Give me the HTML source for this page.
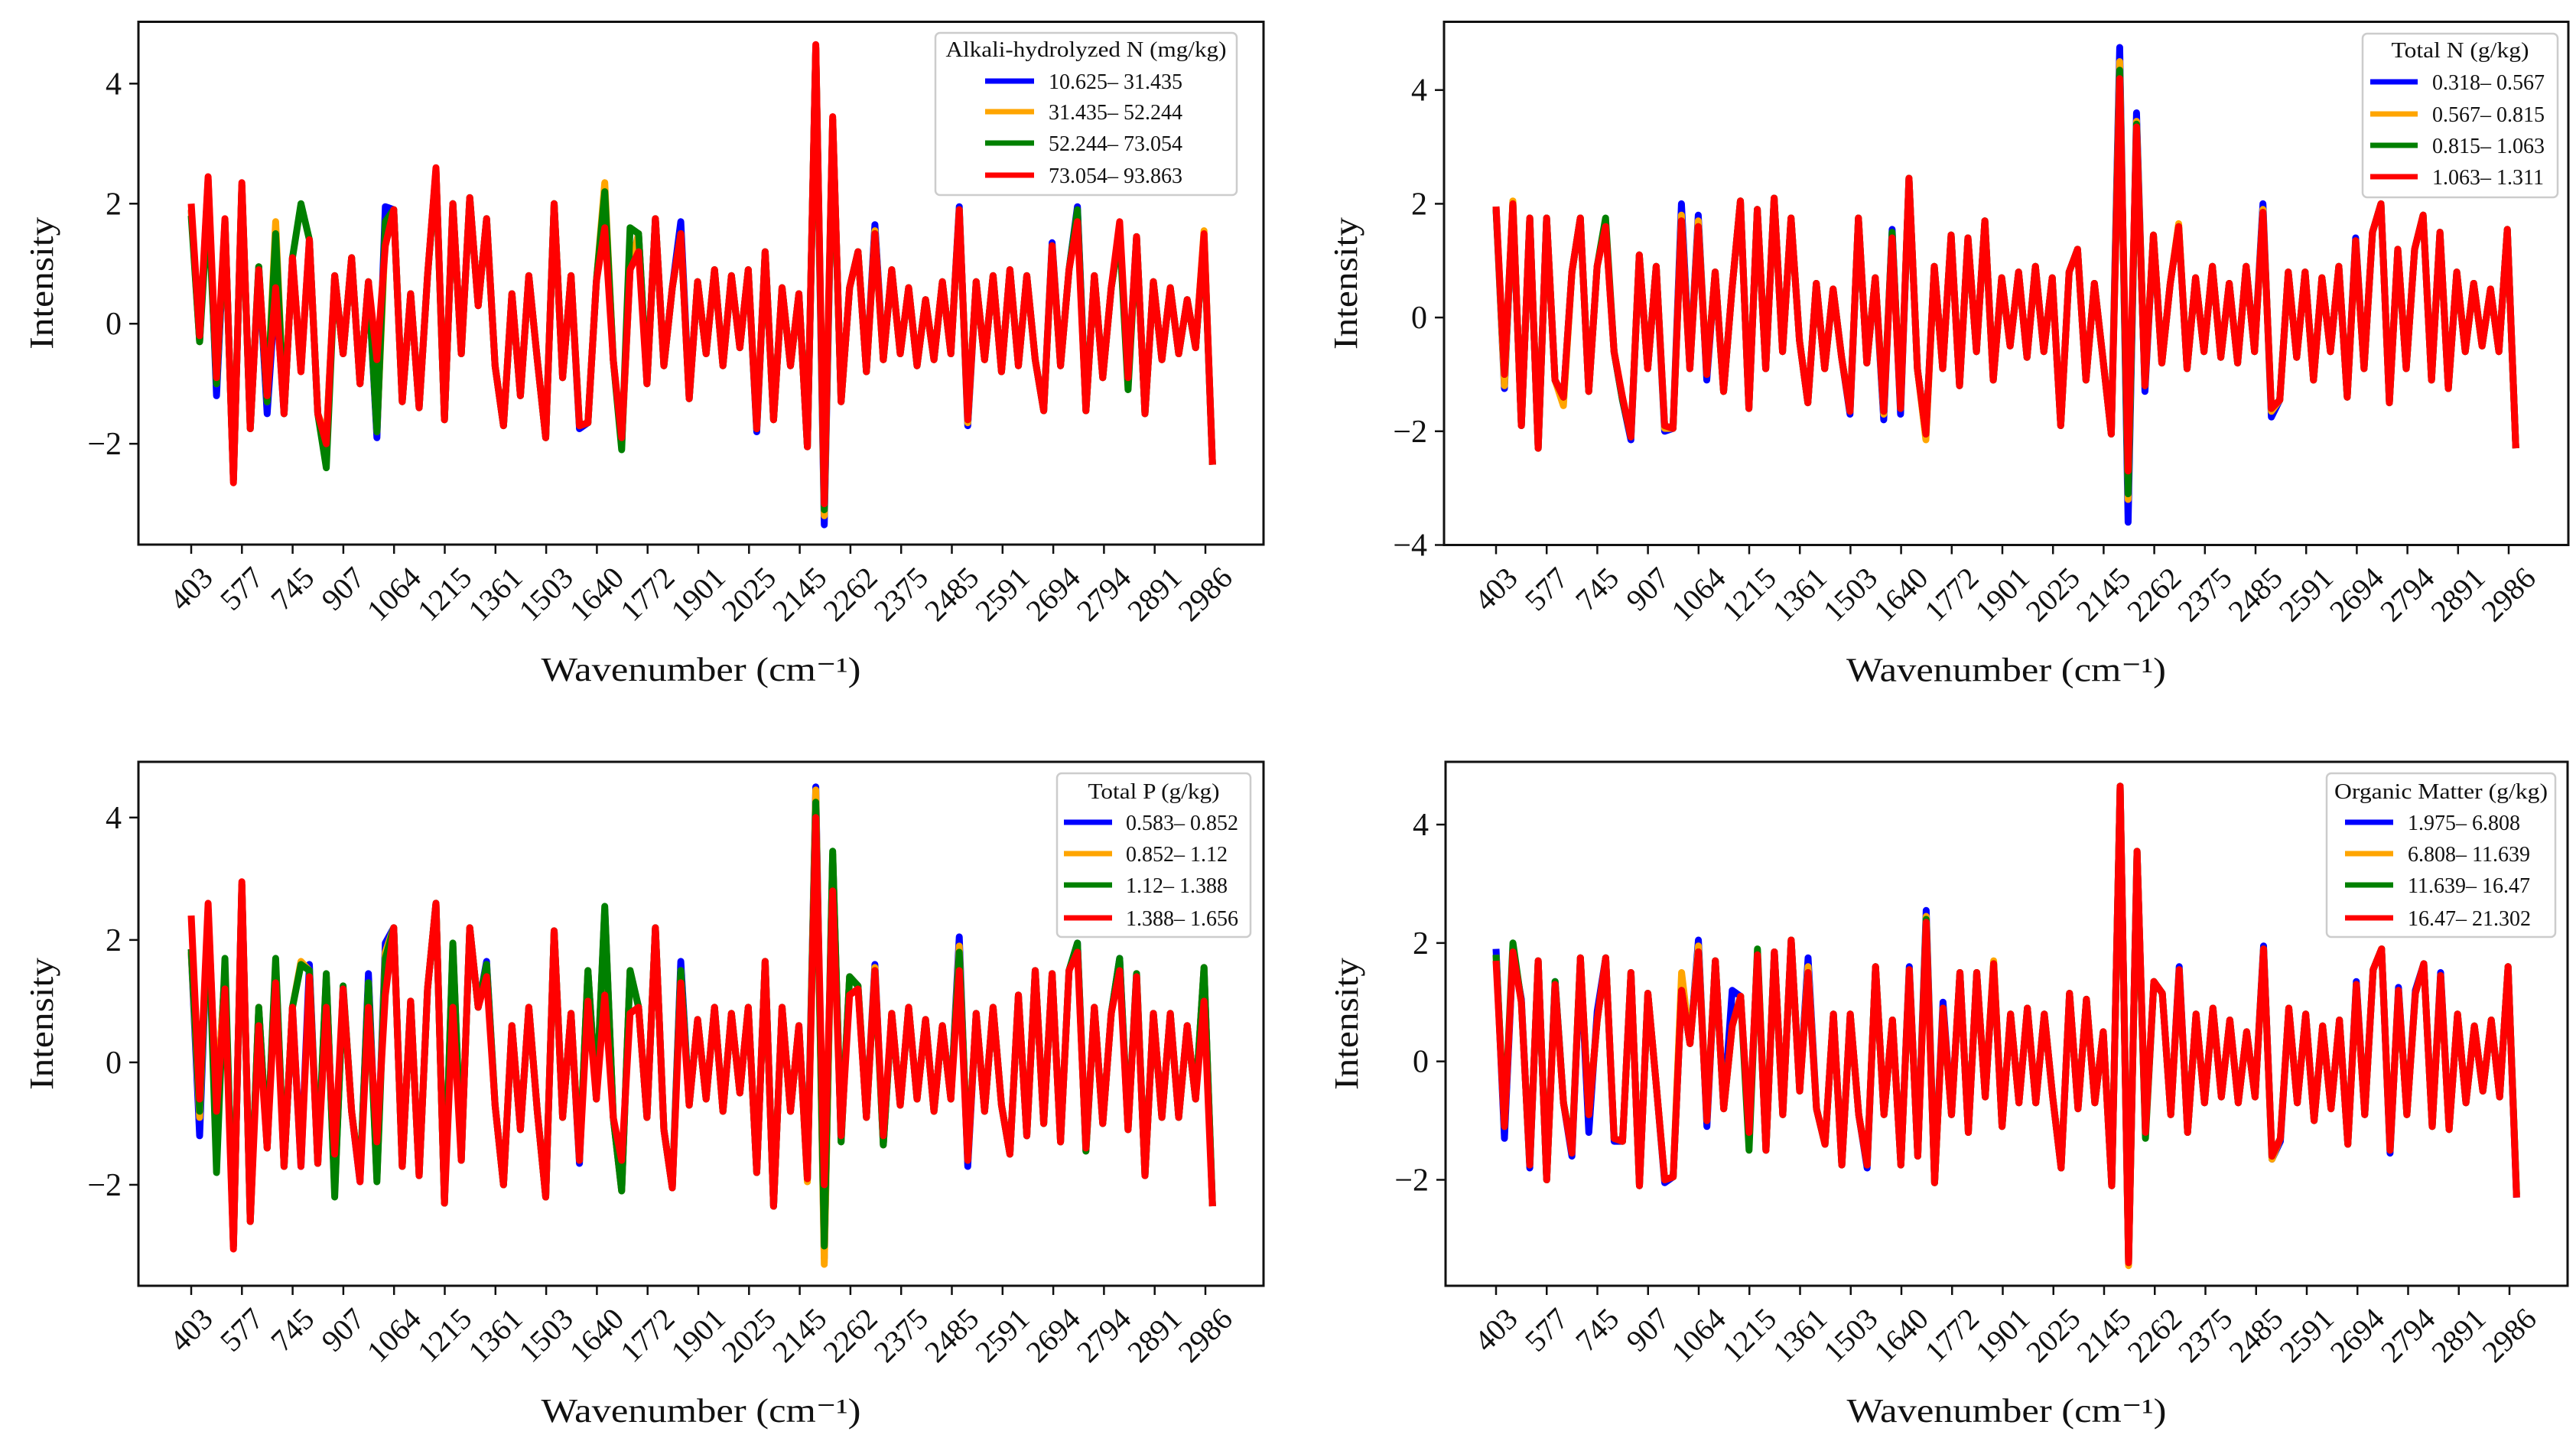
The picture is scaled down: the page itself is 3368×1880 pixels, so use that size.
<!DOCTYPE html>
<html><head><meta charset="utf-8">
<style>
html,body{margin:0;padding:0;background:#fff;}
svg{display:block;font-family:"Liberation Serif",serif;}
</style></head>
<body>
<svg id="fig" width="3368" height="1880" viewBox="0 0 3368 1880" xmlns="http://www.w3.org/2000/svg"></svg>
<script>
// ---------- shared data ----------
const tickLabels = ["403","577","745","907","1064","1215","1361","1503","1640","1772","1901","2025","2145","2262","2375","2485","2591","2694","2794","2891","2986"];
const seriesColors = ["#0000ff","#ffa500","#008000","#ff0000"];

// ---------- Panel A: Alkali-hydrolyzed N ----------
const legendA = ["10.625\u2013 31.435","31.435\u2013 52.244","52.244\u2013 73.054","73.054\u2013 93.863"];
const redA = [2.0,-0.2,2.45,-0.9,1.75,-2.65, 2.35,-1.75,0.9,-1.2,0.6,-1.5, 1.1,-0.8,1.4,-1.5,-2.0,0.8, -0.5,1.1,-1.0,0.7,-0.6,1.3, 1.9,-1.3,0.5,-1.4,0.8,2.6, -1.6,2.0,-0.5,2.1,0.3,1.75, -0.7,-1.7,0.5,-1.2,0.8,-0.6, -1.9,2.0,-0.9,0.8,-1.7,-1.65, 0.7,1.6,-0.6,-1.9,0.9,1.2, -1.0,1.75,-0.7,0.6,1.5,-1.25, 0.7,-0.5,0.9,-0.7,0.8,-0.4, 0.9,-1.75,1.2,-1.6,0.6,-0.7, 0.5,-2.05,4.65,-3.0,3.45,-1.3, 0.6,1.2,-0.8,1.5,-0.6,0.9, -0.5,0.6,-0.7,0.4,-0.6,0.7, -0.5,1.9,-1.6,0.7,-0.6,0.8, -0.8,0.9,-0.7,0.8,-0.6,-1.45, 1.3,-0.7,0.9,1.7,-1.45,0.8, -0.9,0.6,1.7,-0.9,1.45,-1.5, 0.7,-0.6,0.6,-0.5,0.4,-0.4, 1.5,-2.35];
const blueA = [1.9,-0.3,2.4,-1.2,1.7,-2.6, 2.3,-1.75,0.95,-1.5,0.6,-1.5, 1.1,-0.8,1.4,-1.5,-1.9,0.8, -0.5,1.1,-1.0,0.7,-1.9,1.95, 1.9,-1.3,0.5,-1.4,0.8,2.55, -1.6,2.0,-0.5,2.1,0.3,1.75, -0.7,-1.7,0.5,-1.2,0.8,-0.6, -1.9,2.0,-0.9,0.8,-1.75,-1.65, 0.7,2.2,-0.6,-2.0,0.9,1.5, -1.0,1.75,-0.7,0.6,1.7,-1.25, 0.7,-0.5,0.9,-0.7,0.8,-0.4, 0.9,-1.8,1.2,-1.6,0.6,-0.7, 0.5,-2.05,4.6,-3.35,3.4,-1.3, 0.6,1.2,-0.8,1.65,-0.6,0.9, -0.5,0.6,-0.7,0.4,-0.6,0.7, -0.5,1.95,-1.7,0.7,-0.6,0.8, -0.8,0.9,-0.7,0.8,-0.6,-1.45, 1.35,-0.7,0.9,1.95,-1.45,0.8, -0.9,0.6,1.5,-0.9,1.45,-1.5, 0.7,-0.6,0.6,-0.5,0.4,-0.4, 1.5,-2.35];
const orangeA = [1.9,-0.3,2.4,-1.0,1.7,-2.6, 2.3,-1.75,0.95,-1.3,1.7,-1.5, 1.1,-0.8,1.4,-1.5,-1.9,0.8, -0.5,1.1,-1.0,0.7,-1.8,1.5, 1.9,-1.3,0.5,-1.4,0.8,2.55, -1.6,2.0,-0.5,2.1,0.3,1.75, -0.7,-1.7,0.5,-1.2,0.8,-0.6, -1.9,2.0,-0.9,0.8,-1.7,-1.65, 0.7,2.35,-0.6,-2.0,0.9,1.5, -1.0,1.75,-0.7,0.6,1.5,-1.25, 0.7,-0.5,0.9,-0.7,0.8,-0.4, 0.9,-1.75,1.2,-1.6,0.6,-0.7, 0.5,-2.05,4.6,-3.2,3.4,-1.3, 0.6,1.2,-0.8,1.55,-0.6,0.9, -0.5,0.6,-0.7,0.4,-0.6,0.7, -0.5,1.9,-1.65,0.7,-0.6,0.8, -0.8,0.9,-0.7,0.8,-0.6,-1.45, 1.3,-0.7,0.9,1.8,-1.45,0.8, -0.9,0.6,1.5,-1.0,1.45,-1.5, 0.7,-0.6,0.6,-0.5,0.4,-0.4, 1.55,-2.35];
const greenA = [1.8,-0.3,2.0,-1.0,1.7,-2.6, 2.3,-1.75,0.95,-1.3,1.5,-1.5, 1.1,2.0,1.4,-1.5,-2.4,0.8, -0.5,1.1,-1.0,0.7,-1.8,1.7, 1.9,-1.3,0.5,-1.4,0.8,2.55, -1.6,2.0,-0.5,2.1,0.3,1.75, -0.7,-1.7,0.5,-1.2,0.8,-0.6, -1.9,2.0,-0.9,0.8,-1.7,-1.65, 0.7,2.2,-0.6,-2.1,1.6,1.5, -1.0,1.75,-0.7,0.6,1.5,-1.25, 0.7,-0.5,0.9,-0.7,0.8,-0.4, 0.9,-1.75,1.2,-1.6,0.6,-0.7, 0.5,-2.05,4.6,-3.1,3.4,-1.3, 0.6,1.2,-0.8,1.5,-0.6,0.9, -0.5,0.6,-0.7,0.4,-0.6,0.7, -0.5,1.9,-1.6,0.7,-0.6,0.8, -0.8,0.9,-0.7,0.8,-0.6,-1.45, 1.3,-0.7,0.9,1.9,-1.45,0.8, -0.9,0.6,1.5,-1.1,1.45,-1.5, 0.7,-0.6,0.6,-0.5,0.4,-0.4, 1.45,-2.35];

// ---------- Panel B: Total N ----------
const legendB = ["0.318\u2013 0.567","0.567\u2013 0.815","0.815\u2013 1.063","1.063\u2013 1.311"];
const redB = [1.95,-1.0,2.0,-1.9,1.75,-2.3, 1.75,-1.1,-1.4,0.8,1.75,-1.3, 0.9,1.6,-0.6,-1.4,-2.1,1.1, -0.9,0.9,-1.9,-1.95,1.7,-0.9, 1.6,-1.0,0.8,-1.3,0.5,2.05, -1.6,1.9,-0.9,2.1,-0.6,1.75, -0.4,-1.5,0.6,-0.9,0.5,-0.7, -1.65,1.75,-0.8,0.7,-1.65,1.4, -1.6,2.45,-0.9,-2.05,0.9,-0.9, 1.45,-1.2,1.4,-0.6,1.7,-1.1, 0.7,-0.5,0.8,-0.7,0.9,-0.6, 0.7,-1.9,0.8,1.2,-1.1,0.6, -0.7,-2.05,4.2,-2.7,3.35,-1.2, 1.45,-0.8,0.6,1.6,-0.9,0.7, -0.6,0.9,-0.7,0.6,-0.8,0.9, -0.6,1.85,-1.6,-1.45,0.8,-0.7, 0.8,-1.1,0.7,-0.6,0.9,-1.4, 1.35,-0.9,1.5,2.0,-1.5,1.2, -0.9,1.2,1.8,-1.1,1.5,-1.25, 0.8,-0.6,0.6,-0.5,0.5,-0.6, 1.55,-2.3];
const blueB = [1.95,-1.25,2.0,-1.9,1.75,-2.3, 1.75,-1.1,-1.4,0.8,1.75,-1.3, 0.9,1.6,-0.6,-1.45,-2.15,1.1, -0.9,0.9,-2.0,-1.95,2.0,-0.9, 1.8,-1.1,0.8,-1.3,0.5,2.05, -1.6,1.9,-0.9,2.1,-0.6,1.75, -0.4,-1.5,0.6,-0.9,0.5,-0.7, -1.7,1.75,-0.8,0.7,-1.8,1.55, -1.7,2.45,-0.9,-2.05,0.9,-0.9, 1.45,-1.2,1.4,-0.6,1.7,-1.1, 0.7,-0.5,0.8,-0.7,0.9,-0.6, 0.7,-1.9,0.8,1.2,-1.1,0.6, -0.7,-2.05,4.75,-3.6,3.6,-1.3, 1.45,-0.8,0.6,1.6,-0.9,0.7, -0.6,0.9,-0.7,0.6,-0.8,0.9, -0.6,2.0,-1.75,-1.45,0.8,-0.7, 0.8,-1.1,0.7,-0.6,0.9,-1.4, 1.4,-0.9,1.5,2.0,-1.5,1.2, -0.9,1.2,1.8,-1.1,1.5,-1.25, 0.8,-0.6,0.6,-0.5,0.5,-0.6, 1.55,-2.3];
const orangeB = [1.95,-1.2,2.05,-1.9,1.75,-2.3, 1.75,-1.1,-1.55,0.8,1.75,-1.3, 0.9,1.6,-0.6,-1.4,-2.1,1.1, -0.9,0.9,-1.95,-1.95,1.8,-0.9, 1.7,-1.0,0.8,-1.3,0.5,2.05, -1.6,1.9,-0.9,2.1,-0.6,1.75, -0.4,-1.5,0.6,-0.9,0.5,-0.7, -1.65,1.75,-0.8,0.7,-1.7,1.45, -1.6,2.45,-0.9,-2.15,0.9,-0.9, 1.45,-1.2,1.4,-0.6,1.7,-1.1, 0.7,-0.5,0.8,-0.7,0.9,-0.6, 0.7,-1.9,0.8,1.2,-1.1,0.6, -0.7,-2.05,4.5,-3.2,3.45,-1.2, 1.45,-0.8,0.6,1.65,-0.9,0.7, -0.6,0.9,-0.7,0.6,-0.8,0.9, -0.6,1.9,-1.65,-1.45,0.8,-0.7, 0.8,-1.1,0.7,-0.6,0.9,-1.4, 1.35,-0.9,1.5,2.0,-1.5,1.2, -0.9,1.2,1.8,-1.1,1.5,-1.25, 0.8,-0.6,0.6,-0.5,0.5,-0.6, 1.55,-2.3];
const greenB = [1.9,-1.0,2.0,-1.9,1.75,-2.3, 1.75,-1.1,-1.4,0.8,1.75,-1.3, 0.9,1.75,-0.6,-1.45,-2.1,1.1, -0.9,0.9,-1.9,-1.95,1.7,-0.9, 1.6,-1.0,0.8,-1.3,0.5,2.05, -1.6,1.9,-0.9,2.1,-0.6,1.75, -0.4,-1.5,0.6,-0.9,0.5,-0.7, -1.65,1.75,-0.8,0.7,-1.65,1.5, -1.6,2.45,-0.9,-2.05,0.9,-0.9, 1.45,-1.2,1.4,-0.6,1.7,-1.1, 0.7,-0.5,0.8,-0.7,0.9,-0.6, 0.7,-1.9,0.8,1.2,-1.1,0.6, -0.7,-2.05,4.35,-3.1,3.4,-1.2, 1.45,-0.8,0.6,1.6,-0.9,0.7, -0.6,0.9,-0.7,0.6,-0.8,0.9, -0.6,1.85,-1.6,-1.45,0.8,-0.7, 0.8,-1.1,0.7,-0.6,0.9,-1.4, 1.35,-0.9,1.5,2.0,-1.5,1.2, -0.9,1.2,1.8,-1.1,1.5,-1.25, 0.8,-0.6,0.6,-0.5,0.5,-0.6, 1.55,-2.3];

// ---------- Panel C: Total P ----------
const legendC = ["0.583\u2013 0.852","0.852\u2013 1.12","1.12\u2013 1.388","1.388\u2013 1.656"];
const redC = [2.4,-0.6,2.6,-0.8,1.2,-3.05, 2.95,-2.6,0.6,-1.4,1.3,-1.7, 0.9,-1.7,1.4,-1.65,0.9,-1.5, 1.2,-0.8,-1.95,0.9,-1.3,1.1, 2.2,-1.7,1.0,-1.85,1.2,2.6, -2.3,0.9,-1.6,2.2,0.9,1.4, -0.7,-2.0,0.6,-1.1,0.9,-0.8, -2.2,2.15,-0.9,0.8,-1.6,1.0, -0.6,1.1,-0.9,-1.6,0.8,0.9, -0.9,2.2,-1.1,-2.05,1.3,-0.7, 0.7,-0.6,0.9,-0.8,0.8,-0.5, 0.9,-1.8,1.65,-2.35,0.9,-0.8, 0.6,-1.9,4.0,-2.0,2.8,-1.2, 1.1,1.2,-0.9,1.5,-1.2,0.8, -0.7,0.9,-0.6,0.7,-0.8,0.6, -0.6,1.5,-1.6,0.8,-0.8,0.9, -0.7,-1.5,1.1,-1.2,1.5,-1.0, 1.45,-1.3,1.5,1.8,-1.4,0.9, -1.0,0.8,1.5,-1.1,1.4,-1.85, 0.8,-0.9,0.8,-0.9,0.6,-0.6, 1.0,-2.35];
const blueC = [1.8,-1.2,2.5,-0.8,1.5,-3.0, 2.9,-2.6,0.9,-1.4,1.6,-1.7, 0.9,-1.7,1.6,-1.65,1.4,-2.1, 1.2,-0.8,-1.95,1.45,-1.9,1.95, 2.2,-1.7,1.0,-1.85,1.2,2.6, -2.3,1.9,-1.6,2.2,0.9,1.65, -0.7,-2.0,0.6,-1.1,0.9,-0.8, -2.2,2.15,-0.9,0.8,-1.65,1.5, -0.6,2.5,-0.9,-2.1,1.5,0.9, -0.9,2.2,-1.1,-2.05,1.65,-0.7, 0.7,-0.6,0.9,-0.8,0.8,-0.5, 0.9,-1.8,1.65,-2.35,0.9,-0.8, 0.6,-1.9,4.5,-3.2,3.4,-1.3, 1.4,1.25,-0.9,1.6,-1.35,0.8, -0.7,0.9,-0.6,0.7,-0.8,0.6, -0.6,2.05,-1.7,0.8,-0.8,0.9, -0.7,-1.5,1.1,-1.2,1.5,-1.0, 1.45,-1.3,1.5,1.95,-1.45,0.9, -1.0,0.8,1.7,-1.1,1.45,-1.85, 0.8,-0.9,0.8,-0.9,0.6,-0.6, 1.55,-2.35];
const orangeC = [1.8,-0.9,2.5,-0.8,1.5,-3.0, 2.9,-2.6,0.9,-1.4,1.6,-1.7, 0.9,1.65,1.5,-1.65,1.4,-2.1, 1.2,-0.8,-1.9,1.3,-1.9,1.8, 2.2,-1.7,1.0,-1.85,1.2,2.6, -2.3,1.9,-1.6,2.2,0.9,1.6, -0.7,-2.0,0.6,-1.1,0.9,-0.8, -2.2,2.15,-0.9,0.8,-1.6,1.5, -0.6,2.5,-0.9,-2.1,1.5,0.9, -0.9,2.2,-1.1,-2.05,1.5,-0.7, 0.7,-0.6,0.9,-0.8,0.8,-0.5, 0.9,-1.8,1.65,-2.35,0.9,-0.8, 0.6,-1.95,4.45,-3.3,3.4,-1.3, 1.4,1.25,-0.9,1.55,-1.35,0.8, -0.7,0.9,-0.6,0.7,-0.8,0.6, -0.6,1.9,-1.6,0.8,-0.8,0.9, -0.7,-1.5,1.1,-1.2,1.5,-1.0, 1.45,-1.3,1.5,1.9,-1.45,0.9, -1.0,0.8,1.6,-1.1,1.45,-1.85, 0.8,-0.9,0.8,-0.9,0.6,-0.6, 1.55,-2.35];
const greenC = [1.85,-0.8,2.5,-1.8,1.7,-3.0, 2.9,-2.6,0.9,-1.4,1.7,-1.7, 0.9,1.6,1.5,-1.65,1.45,-2.2, 1.25,-0.8,-1.9,1.3,-1.95,1.7, 2.2,-1.7,1.0,-1.85,1.2,2.6, -2.3,1.95,-1.6,2.2,0.9,1.6, -0.7,-2.0,0.6,-1.1,0.9,-0.8, -2.2,2.15,-0.9,0.8,-1.6,1.5, -0.6,2.55,-0.9,-2.1,1.5,0.9, -0.9,2.2,-1.1,-2.05,1.5,-0.7, 0.7,-0.6,0.9,-0.8,0.8,-0.5, 0.9,-1.8,1.65,-2.35,0.9,-0.8, 0.6,-1.9,4.25,-3.0,3.45,-1.3, 1.4,1.25,-0.9,1.5,-1.35,0.8, -0.7,0.9,-0.6,0.7,-0.8,0.6, -0.6,1.8,-1.6,0.8,-0.8,0.9, -0.7,-1.5,1.1,-1.2,1.5,-1.0, 1.45,-1.3,1.5,1.95,-1.45,0.9, -1.0,0.8,1.7,-1.1,1.45,-1.85, 0.8,-0.9,0.8,-0.9,0.6,-0.6, 1.55,-2.35];

// ---------- Panel D: Organic Matter ----------
const legendD = ["1.975\u2013 6.808","6.808\u2013 11.639","11.639\u2013 16.47","16.47\u2013 21.302"];
const redD = [1.7,-1.1,1.85,1.0,-1.75,1.7, -2.0,1.3,-0.7,-1.55,1.75,-0.9, 0.7,1.75,-1.3,-1.35,1.5,-2.1, 1.15,-0.4,-2.0,-1.95,1.2,0.3, 1.85,-1.0,1.7,-0.8,0.6,1.1, -1.2,1.8,-1.5,1.85,-0.9,2.05, -0.5,1.5,-0.8,-1.4,0.8,-1.75, 0.8,-0.9,-1.75,1.6,-0.9,0.7, -1.75,1.55,-1.6,2.35,-2.05,0.9, -0.9,1.5,-1.2,1.5,-0.6,1.65, -1.1,0.8,-0.7,0.9,-0.7,0.8, -0.6,-1.8,1.15,-0.8,1.05,-0.7, 0.5,-2.1,4.65,-3.4,3.55,-1.2, 1.35,1.15,-0.9,1.55,-1.2,0.8, -0.7,0.9,-0.6,0.7,-0.7,0.5, -0.6,1.9,-1.6,-1.3,0.9,-0.7, 0.8,-1.0,0.6,-0.8,0.7,-1.4, 1.3,-0.9,1.55,1.9,-1.5,1.2, -0.9,1.15,1.65,-1.1,1.45,-1.15, 0.8,-0.7,0.6,-0.5,0.7,-0.6, 1.6,-2.3];
const blueD = [1.9,-1.3,1.85,1.05,-1.8,1.7, -2.0,1.35,-0.7,-1.6,1.75,-1.2, 0.85,1.75,-1.35,-1.35,1.5,-2.1, 1.15,-0.4,-2.05,-1.95,1.2,0.3, 2.05,-1.1,1.7,-0.8,1.2,1.1, -1.2,1.8,-1.5,1.85,-0.9,2.05, -0.5,1.75,-0.8,-1.4,0.8,-1.75, 0.8,-0.9,-1.8,1.6,-0.9,0.7, -1.75,1.6,-1.6,2.55,-2.05,1.0, -0.9,1.5,-1.2,1.5,-0.6,1.65, -1.1,0.8,-0.7,0.9,-0.7,0.8, -0.6,-1.8,1.15,-0.8,1.05,-0.7, 0.5,-2.1,4.65,-3.4,3.55,-1.2, 1.35,1.15,-0.9,1.6,-1.2,0.8, -0.7,0.9,-0.6,0.7,-0.7,0.5, -0.6,1.95,-1.65,-1.35,0.9,-0.7, 0.8,-1.0,0.6,-0.8,0.7,-1.4, 1.35,-0.9,1.55,1.9,-1.55,1.25, -0.9,1.2,1.65,-1.1,1.5,-1.15, 0.8,-0.7,0.6,-0.5,0.7,-0.6, 1.6,-2.3];
const orangeD = [1.8,-1.1,1.9,1.0,-1.75,1.7, -2.0,1.3,-0.7,-1.5,1.75,-0.9, 0.7,1.75,-1.3,-1.35,1.5,-2.1, 1.15,-0.4,-2.0,-1.95,1.5,0.3, 1.95,-1.0,1.7,-0.8,0.6,1.1, -1.2,1.8,-1.5,1.85,-0.9,2.05, -0.5,1.6,-0.8,-1.4,0.8,-1.75, 0.8,-0.9,-1.75,1.6,-0.9,0.7, -1.75,1.55,-1.6,2.45,-2.05,0.9, -0.9,1.5,-1.2,1.5,-0.6,1.7, -1.1,0.8,-0.7,0.9,-0.7,0.8, -0.6,-1.8,1.15,-0.8,1.05,-0.7, 0.5,-2.1,4.65,-3.45,3.55,-1.2, 1.35,1.15,-0.9,1.55,-1.2,0.8, -0.7,0.9,-0.6,0.7,-0.7,0.5, -0.6,1.9,-1.65,-1.3,0.9,-0.7, 0.8,-1.0,0.6,-0.8,0.7,-1.4, 1.3,-0.9,1.55,1.9,-1.5,1.2, -0.9,1.15,1.65,-1.1,1.45,-1.15, 0.8,-0.7,0.6,-0.5,0.7,-0.6, 1.6,-2.25];
const greenD = [1.8,-1.1,2.0,1.0,-1.75,1.7, -2.0,1.35,-0.7,-1.5,1.75,-0.9, 0.7,1.75,-1.3,-1.35,1.5,-2.1, 1.15,-0.4,-2.0,-1.95,1.2,0.3, 1.85,-1.0,1.7,-0.8,0.6,1.1, -1.5,1.9,-1.5,1.85,-0.9,2.05, -0.5,1.5,-0.8,-1.4,0.8,-1.75, 0.8,-0.9,-1.75,1.6,-0.9,0.7, -1.75,1.55,-1.6,2.4,-2.05,0.9, -0.9,1.5,-1.2,1.5,-0.6,1.65, -1.1,0.8,-0.7,0.9,-0.7,0.8, -0.6,-1.8,1.15,-0.8,1.05,-0.7, 0.5,-2.1,4.65,-3.4,3.55,-1.3, 1.35,1.15,-0.9,1.55,-1.2,0.8, -0.7,0.9,-0.6,0.7,-0.7,0.5, -0.6,1.9,-1.6,-1.3,0.9,-0.7, 0.8,-1.0,0.6,-0.8,0.7,-1.4, 1.3,-0.9,1.55,1.9,-1.5,1.2, -0.9,1.15,1.65,-1.1,1.45,-1.15, 0.8,-0.7,0.6,-0.5,0.7,-0.6, 1.6,-2.25];

// ---------- layout (positions only) ----------
const panels = [
 {id:"alkali-n", title:"Alkali-hydrolyzed N (mg/kg)", titleLen:367, series:[blueA,orangeA,greenA,redA], legend:legendA,
  L:181,R:1652,T:28.5,B:712, ymin:-3.68,ymax:5.03, yticks:[-2,0,2,4], x0:250,x20:1576,
  lg:{x:1223,y:43,w:394,h:212,lx:1288,lx2:1352,tx:1371,ty:[106,146,187,229],tty:74}, ylabX:54},
 {id:"total-n", title:"Total N (g/kg)", titleLen:180, series:[blueB,orangeB,greenB,redB], legend:legendB,
  L:1888,R:3358,T:28.5,B:712.5, ymin:-4.0,ymax:5.2, yticks:[-4,-2,0,2,4], x0:1956,x20:3280,
  lg:{x:3089,y:44,w:255,h:214,lx:3099,lx2:3161,tx:3180,ty:[107,149,190,231],tty:75}, ylabX:1759},
 {id:"total-p", title:"Total P (g/kg)", titleLen:172, series:[blueC,orangeC,greenC,redC], legend:legendC,
  L:181,R:1652,T:996,B:1681, ymin:-3.65,ymax:4.91, yticks:[-2,0,2,4], x0:250,x20:1576,
  lg:{x:1382,y:1011,w:253,h:214,lx:1391,lx2:1454,tx:1472,ty:[1075,1116,1157,1200],tty:1044}, ylabX:54},
 {id:"organic-matter", title:"Organic Matter (g/kg)", titleLen:279, series:[blueD,orangeD,greenD,redD], legend:legendD,
  L:1890,R:3357,T:996,B:1681, ymin:-3.79,ymax:5.06, yticks:[-2,0,2,4], x0:1956,x20:3281,
  lg:{x:3042,y:1011,w:299,h:214,lx:3066,lx2:3129,tx:3148,ty:[1075,1116,1157,1200],tty:1044}, ylabX:1760}
];

const NS="http://www.w3.org/2000/svg";
const svg=document.getElementById("fig");
function mk(tag,attrs,parent){const e=document.createElementNS(NS,tag);for(const k in attrs)e.setAttribute(k,attrs[k]);(parent||svg).appendChild(e);return e;}

panels.forEach((p,pi)=>{
  const g=mk("g",{});
  
  
  const step=(p.x20-p.x0)/20;
  const xs=t=>p.x0+t*step;
  const ys=v=>p.B-(v-p.ymin)/(p.ymax-p.ymin)*(p.B-p.T);
  const cp=mk("clipPath",{id:"clip"+pi},g);
  mk("rect",{x:p.L,y:p.T,width:p.R-p.L,height:p.B-p.T},cp);
  const names=["series-blue","series-orange","series-green","series-red"];
  p.series.forEach((arr,si)=>{
    const n=arr.length;
    const pts=arr.map((v,i)=>xs(i*20.14/(n-1)).toFixed(1)+","+ys(v).toFixed(1)).join(" ");
    const pl=mk("polyline",{points:pts,fill:"none",stroke:seriesColors[si],"stroke-width":9,"stroke-linejoin":"round","clip-path":"url(#clip"+pi+")"},g);
    
    
  });
  const fr=mk("rect",{x:p.L,y:p.T,width:p.R-p.L,height:p.B-p.T,fill:"none",stroke:"#111","stroke-width":3},g);
  
  
  p.yticks.forEach(v=>{
    const y=ys(v);
    mk("line",{x1:p.L-12,x2:p.L,y1:y,y2:y,stroke:"#111","stroke-width":2.5},g);
    const t=mk("text",{x:p.L-22,y:y+14,"text-anchor":"end","font-size":42,fill:"#111"},g);
    t.textContent=(v<0?"\u2212":"")+Math.abs(v);
    
    
  });
  tickLabels.forEach((lab,i)=>{
    const x=xs(i);
    mk("line",{x1:x,x2:x,y1:p.B,y2:p.B+12,stroke:"#111","stroke-width":2.5},g);
    const w=lab.length*20, h=30;
    const bb=(w+h)*0.707;
    const cy=p.B+26+bb/2;
    const t=mk("text",{x:x,y:cy+13,"text-anchor":"middle","font-size":40,fill:"#111",transform:"rotate(-45 "+x+" "+cy+")"},g);
    t.textContent=lab;
    
    
  });
  const cy=(p.T+p.B)/2;
  const yl=mk("text",{x:p.ylabX,y:cy,"text-anchor":"middle","font-size":44,fill:"#111",textLength:173,lengthAdjust:"spacingAndGlyphs",transform:"rotate(-90 "+p.ylabX+" "+cy+") translate(0 15)"},g);
  yl.textContent="Intensity";
  
  
  const xl=mk("text",{x:(p.L+p.R)/2,y:p.B+178,"text-anchor":"middle","font-size":44,fill:"#111",textLength:418,lengthAdjust:"spacingAndGlyphs"},g);
  xl.textContent="Wavenumber (cm\u207B\u00B9)";
  
  
  const lg=p.lg;
  const lgG=mk("g",{},g);
  
  
  mk("rect",{x:lg.x,y:lg.y,width:lg.w,height:lg.h,rx:6,fill:"#fff","fill-opacity":0.85,stroke:"#cccccc","stroke-width":2.5},lgG);
  const tt=mk("text",{x:lg.x+lg.w/2,y:lg.tty,"text-anchor":"middle","font-size":28,fill:"#111",textLength:p.titleLen,lengthAdjust:"spacingAndGlyphs"},lgG);
  tt.textContent=p.title;
  
  
  p.legend.forEach((lab,k)=>{
    const y=lg.ty[k];
    const ln=mk("line",{x1:lg.lx,x2:lg.lx2,y1:y,y2:y,stroke:seriesColors[k],"stroke-width":7},lgG);
    
    
    const t=mk("text",{x:lg.tx,y:y+10,"font-size":28,fill:"#111"},lgG);
    t.textContent=lab;
    
    
  });
});
</script>
</body></html>
